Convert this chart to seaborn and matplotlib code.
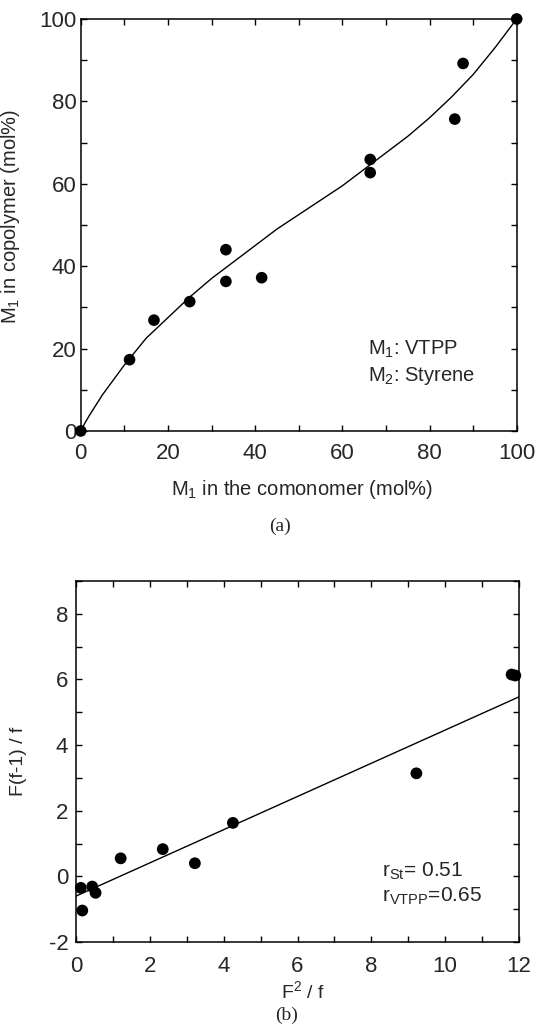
import matplotlib
matplotlib.use("Agg")
import matplotlib.pyplot as plt
import seaborn as sns
import pandas as pd
from matplotlib.ticker import MultipleLocator

# (a) composition data, M1 = VTPP
feed_m1 = [0, 11.2, 16.8, 25.0, 33.3, 33.3, 41.5, 66.4, 66.4, 85.8, 87.7, 100]
copoly_m1 = [0, 17.3, 26.9, 31.4, 44.0, 36.3, 37.2, 65.9, 62.7, 75.7, 89.2, 100]

# fitted composition curve
curve_x = [0, 1, 2, 5, 10, 15, 20, 25, 30, 35, 40, 45, 50, 55, 60, 65, 70, 75, 80, 85, 90, 95, 100]
curve_y = [0, 2.0, 3.8, 8.8, 16.0, 22.5, 27.5, 32.5, 37.0, 41.0, 45.0, 49.0, 52.5, 56.0,
           59.5, 63.5, 67.5, 71.5, 76.0, 81.0, 86.5, 93.0, 100]

# (b) Fineman-Ross data
fr_x = [0.13, 0.17, 0.44, 0.53, 1.21, 2.35, 3.22, 4.25, 9.22, 11.8, 11.9]
fr_y = [-0.35, -1.04, -0.31, -0.5, 0.55, 0.83, 0.4, 1.63, 3.14, 6.15, 6.12]
fit_x = [0, 12]
fit_y = [-0.6, 5.47]

sns.set_style("ticks")
plt.rcParams['font.family'] = ['Liberation Sans', 'DejaVu Sans']
plt.rcParams['mathtext.fontset'] = 'custom'
plt.rcParams['mathtext.rm'] = 'Liberation Sans'
plt.rcParams['mathtext.it'] = 'Liberation Sans:italic'
plt.rcParams['axes.linewidth'] = 1.1
plt.rcParams['axes.unicode_minus'] = False

fig = plt.figure(figsize=(5.36, 10.36), dpi=100)
ax1 = fig.add_axes([0.1506, 0.584, 0.8134, 0.3977])
ax2 = fig.add_axes([0.1418, 0.0907, 0.8265, 0.3485])


def style_axis(ax, xpad, ypad):
    for s in ax.spines.values():
        s.set_color('black')
    ax.tick_params(which='both', direction='in', top=True, right=True,
                   length=4, width=1, color='black')
    ax.tick_params(axis='x', which='major', labelsize=16, pad=xpad)
    ax.tick_params(axis='y', which='major', labelsize=16, pad=ypad)


# ---- panel (a)
df_a = pd.DataFrame({'feed': feed_m1, 'copoly': copoly_m1})
df_curve = pd.DataFrame({'x': curve_x, 'y': curve_y})
sns.lineplot(data=df_curve, x='x', y='y', ax=ax1, color='black', linewidth=1.0)
sns.scatterplot(data=df_a, x='feed', y='copoly', ax=ax1, color='black', s=70,
                edgecolor='none', clip_on=False, zorder=5)
ax1.set_xlim(0, 100)
ax1.set_ylim(0, 100)
ax1.xaxis.set_major_locator(MultipleLocator(20))
ax1.xaxis.set_minor_locator(MultipleLocator(10))
ax1.yaxis.set_major_locator(MultipleLocator(20))
ax1.yaxis.set_minor_locator(MultipleLocator(10))
style_axis(ax1, 9, 3)
ax1.set_xlabel('M$_1$ in the comonomer (mol%)', fontsize=14.5)
ax1.set_ylabel('M$_1$ in copolymer (mol%)', fontsize=14.5)
ax1.xaxis.set_label_coords(0.507, -0.115)
ax1.yaxis.set_label_coords(-0.135, 0.52)
ax1.text(65.9, 18.4, 'M$_1$: VTPP', fontsize=14.5)
ax1.text(65.9, 12.1, 'M$_2$: Styrene', fontsize=14.5)

# ---- panel (b)
df_b = pd.DataFrame({'x': fr_x, 'y': fr_y})
df_fit = pd.DataFrame({'x': fit_x, 'y': fit_y})
sns.lineplot(data=df_fit, x='x', y='y', ax=ax2, color='black', linewidth=1.0)
sns.scatterplot(data=df_b, x='x', y='y', ax=ax2, color='black', s=72,
                edgecolor='none', clip_on=False, zorder=5)
ax2.set_xlim(0, 12)
ax2.set_ylim(-2, 9)
ax2.xaxis.set_major_locator(MultipleLocator(2))
ax2.xaxis.set_minor_locator(MultipleLocator(1))
ax2.yaxis.set_major_locator(MultipleLocator(2))
ax2.yaxis.set_minor_locator(MultipleLocator(1))
style_axis(ax2, 10, 5.5)
ax2.set_xlabel('F$^2$ / f', fontsize=14)
ax2.set_ylabel('F(f-1) / f', fontsize=14)
ax2.xaxis.set_label_coords(0.512, -0.105)
ax2.yaxis.set_label_coords(-0.11, 0.5)
ax2.text(8.28, 0.0, 'r$_{\\mathrm{St}}$= 0.51', fontsize=15)
ax2.text(8.28, -0.76, 'r$_{\\mathrm{VTPP}}$=0.65', fontsize=15)

# panel captions
fig.text(0.522, 1 - 526 / 1036, '(a)', family='Liberation Serif', fontsize=14,
         ha='center', va='center')
fig.text(0.535, 1 - 1015 / 1036, '(b)', family='Liberation Serif', fontsize=14,
         ha='center', va='center')

fig.savefig('out.png', dpi=100)
